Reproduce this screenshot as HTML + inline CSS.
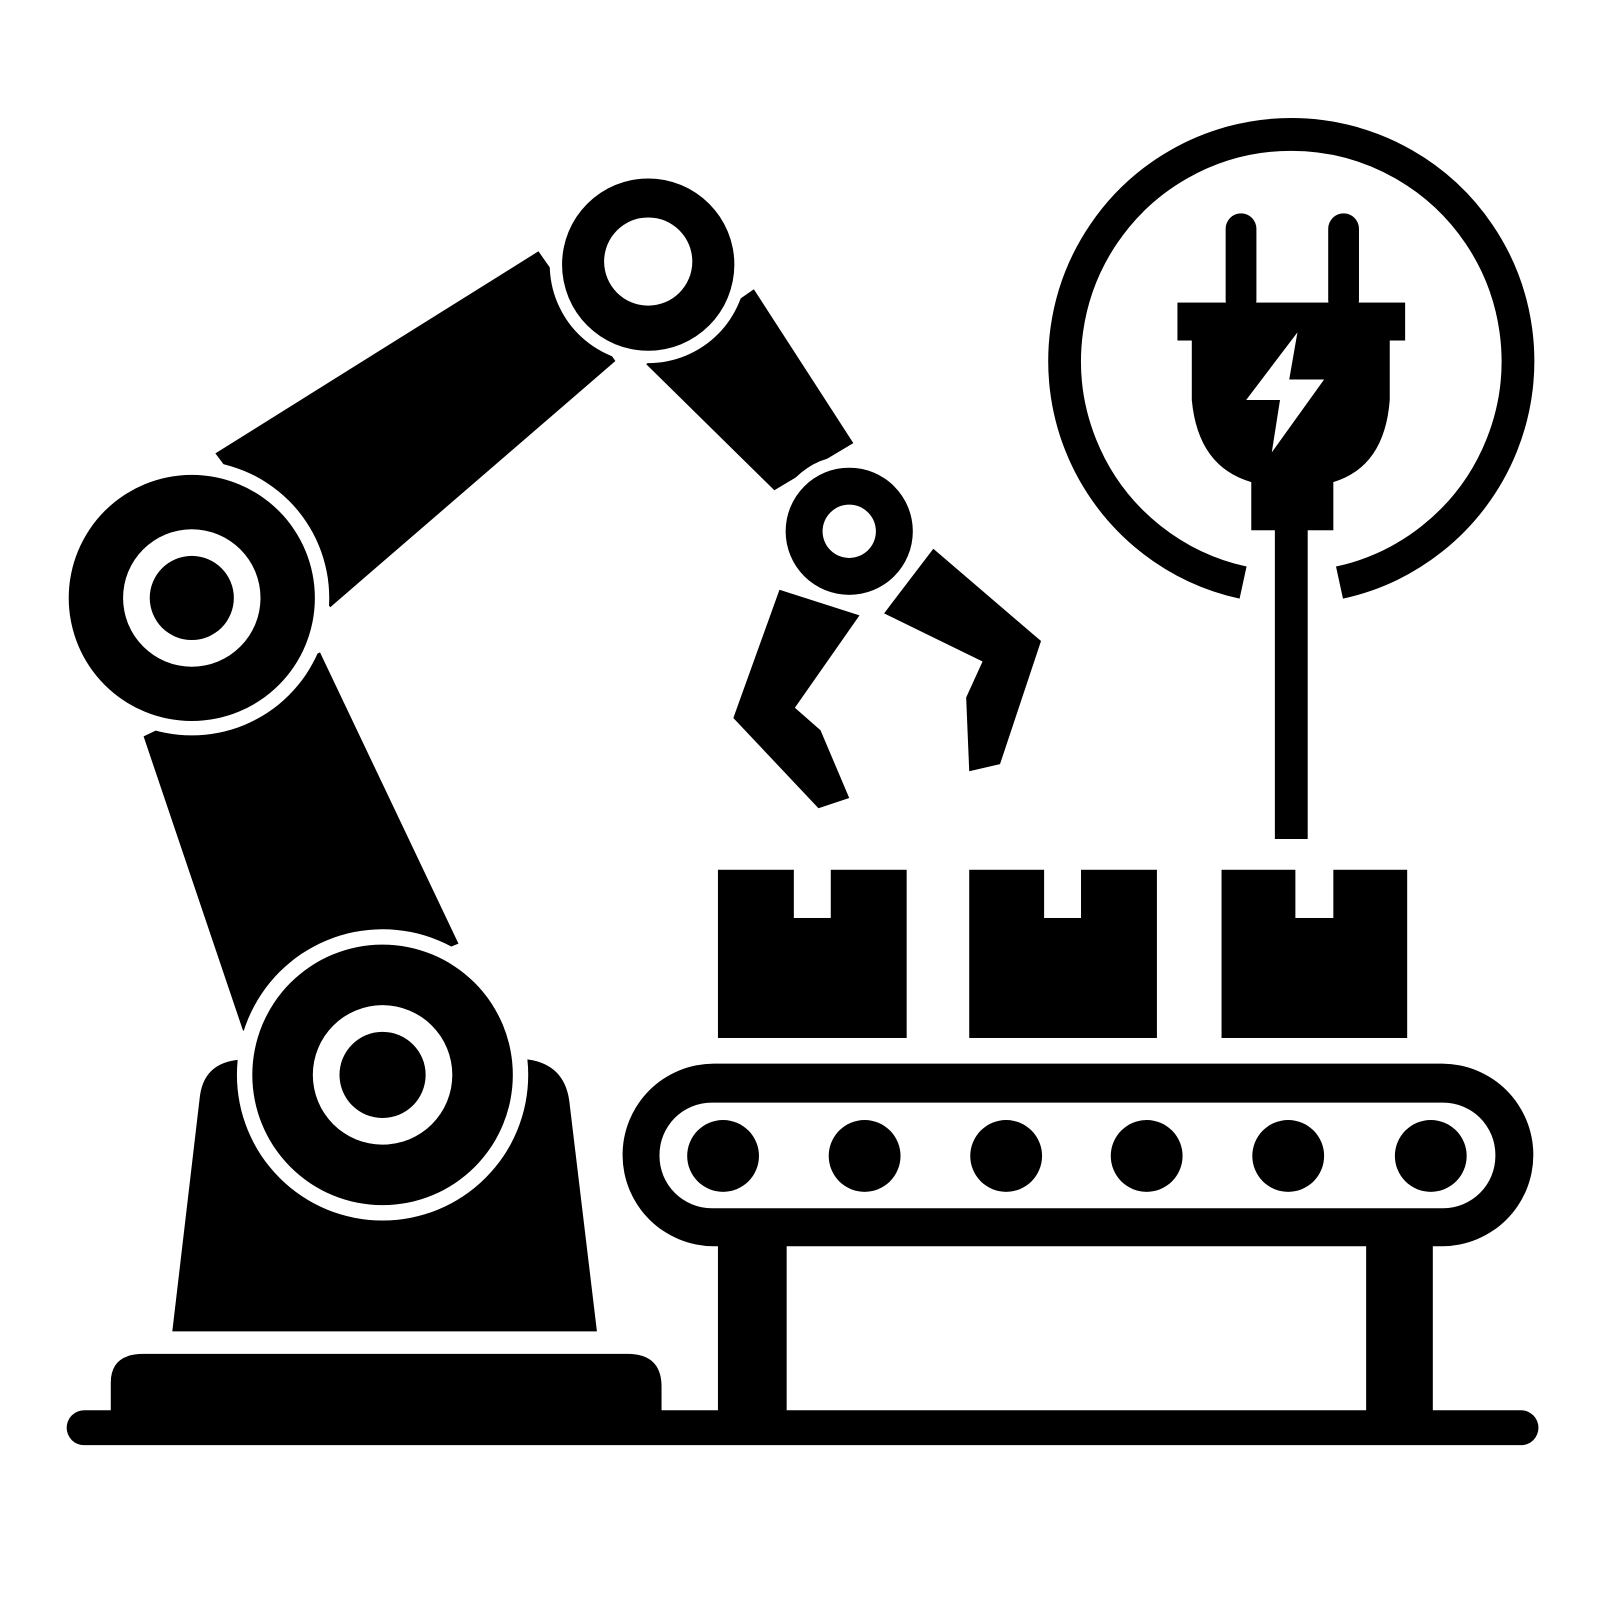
<!DOCTYPE html>
<html><head><style>html,body{margin:0;padding:0;background:#fff}svg{display:block}</style></head>
<body>
<svg width="1600" height="1598" viewBox="0 0 1560 1558" preserveAspectRatio="none" xmlns="http://www.w3.org/2000/svg">
<rect width="1560" height="1558" fill="#fff"/>
<!-- ground -->
<rect x="65" y="1375" width="1435" height="34" rx="17" fill="#000"/>
<!-- base plate -->
<path d="M108 1377 L108 1348 Q108 1320 140 1320 L612 1320 Q645 1320 645 1352 L645 1377 Z" fill="#000"/>
<!-- pedestal -->
<path d="M168 1298 L195 1068 Q200 1033 240 1033 L515 1033 Q550 1038 555 1073 L582 1298 Z" fill="#000"/>
<!-- lower arm -->
<polygon points="140,718 312,636 447,920 237,1005" fill="#000"/>
<!-- upper arm -->
<polygon points="210,442 525,245 600,352 322,592" fill="#000"/>
<!-- forearm -->
<polygon points="630,355 735,282 832,432 755,478" fill="#000"/>
<!-- gripper fingers -->
<polygon points="760,575 838,600 775,690 800,712 828,778 798,788 715,700" fill="#000"/>
<polygon points="862,598 910,535 1015,625 975,745 945,752 942,680 958,645" fill="#000"/>
<!-- lower joint -->
<circle cx="373" cy="1048" r="142" fill="#fff"/>
<circle cx="373" cy="1048" r="127" fill="#000"/>
<circle cx="373" cy="1048" r="68" fill="#fff"/>
<circle cx="373" cy="1048" r="42" fill="#000"/>
<!-- shoulder joint -->
<circle cx="187" cy="583" r="134" fill="#fff"/>
<circle cx="187" cy="583" r="120" fill="#000"/>
<circle cx="187" cy="583" r="67" fill="#fff"/>
<circle cx="187" cy="583" r="41" fill="#000"/>
<!-- elbow -->
<circle cx="632" cy="258" r="96" fill="#fff"/>
<circle cx="632" cy="258" r="84" fill="#000"/>
<circle cx="632" cy="255" r="43" fill="#fff"/>
<!-- wrist -->
<circle cx="828" cy="518" r="74" fill="#fff"/>
<circle cx="828" cy="518" r="62" fill="#000"/>
<circle cx="828" cy="518" r="26" fill="#fff"/>
<!-- boxes -->
<rect x="700" y="848" width="184" height="164" fill="#000"/>
<rect x="774" y="846" width="36" height="49" fill="#fff"/>
<rect x="945" y="848" width="183" height="164" fill="#000"/>
<rect x="1018" y="846" width="36" height="49" fill="#fff"/>
<rect x="1191" y="848" width="181" height="164" fill="#000"/>
<rect x="1263" y="846" width="37" height="49" fill="#fff"/>
<!-- conveyor -->
<rect x="607" y="1037" width="888" height="178" rx="89" fill="#000"/>
<rect x="643" y="1075" width="815" height="103" rx="51" fill="#fff"/>
<g fill="#000">
<circle cx="705" cy="1127" r="35"/><circle cx="843" cy="1127" r="35"/><circle cx="981" cy="1127" r="35"/>
<circle cx="1118" cy="1127" r="35"/><circle cx="1256" cy="1127" r="35"/><circle cx="1395" cy="1127" r="35"/>
</g>
<rect x="700" y="1200" width="67" height="187" fill="#000"/>
<rect x="1332" y="1200" width="65" height="187" fill="#000"/>
<!-- plug circle -->
<path d="M1212 568 A221 221 0 1 1 1306 568" fill="none" stroke="#000" stroke-width="32"/>
<!-- plug -->
<rect x="1195" y="208" width="30" height="100" rx="15" fill="#000"/>
<rect x="1295" y="208" width="30" height="100" rx="15" fill="#000"/>
<rect x="1148" y="295" width="222" height="37" fill="#000"/>
<path d="M1162 330 L1355 330 L1355 390 Q1350 455 1300 470 L1220 470 Q1168 455 1162 390 Z" fill="#000"/>
<rect x="1220" y="460" width="80" height="57" fill="#000"/>
<rect x="1243" y="510" width="32" height="308" fill="#000"/>
<polygon points="1265,324 1215,390 1248,390 1240,441 1291,370 1257,370" fill="#fff"/>
</svg>
</body></html>
